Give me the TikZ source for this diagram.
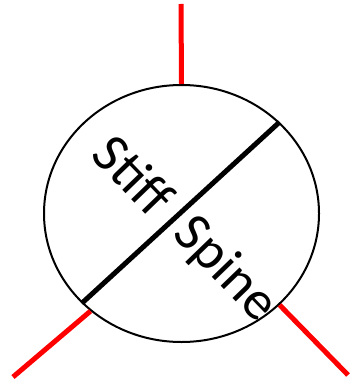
\documentclass[tikz,border=0pt]{standalone}
\usepackage{fontspec}
\setmainfont{Carlito}
\usetikzlibrary{shapes.geometric}
\begin{document}
\begin{tikzpicture}[x=1pt,y=-1pt,
  redline/.style={draw=red,line width=5pt},
  divider/.style={draw=black,line width=5pt},
  lbl/.style={font=\fontsize{55}{55}\selectfont,inner sep=0pt,rotate=-46}]
\useasboundingbox (0,0) rectangle (350,379);
\node[ellipse,draw,line width=2pt,minimum width=275pt,minimum height=257pt,inner sep=0pt] (c) at (181.5,213.5) {};
\coordinate (t) at (181,4);
\coordinate (bl) at (13,377);
\coordinate (br) at (348,375);
\draw[redline] (t) -- (c.north);
\draw[redline] (bl) -- (c.227);
\draw[redline] (br) -- (c.317);
\draw[divider] (c.222.8) -- (c.43);
\node[lbl] (s1) at (134,175) {Stiff};
\node[lbl] (s2) at (225,270) {Spine};
\end{tikzpicture}
\end{document}
